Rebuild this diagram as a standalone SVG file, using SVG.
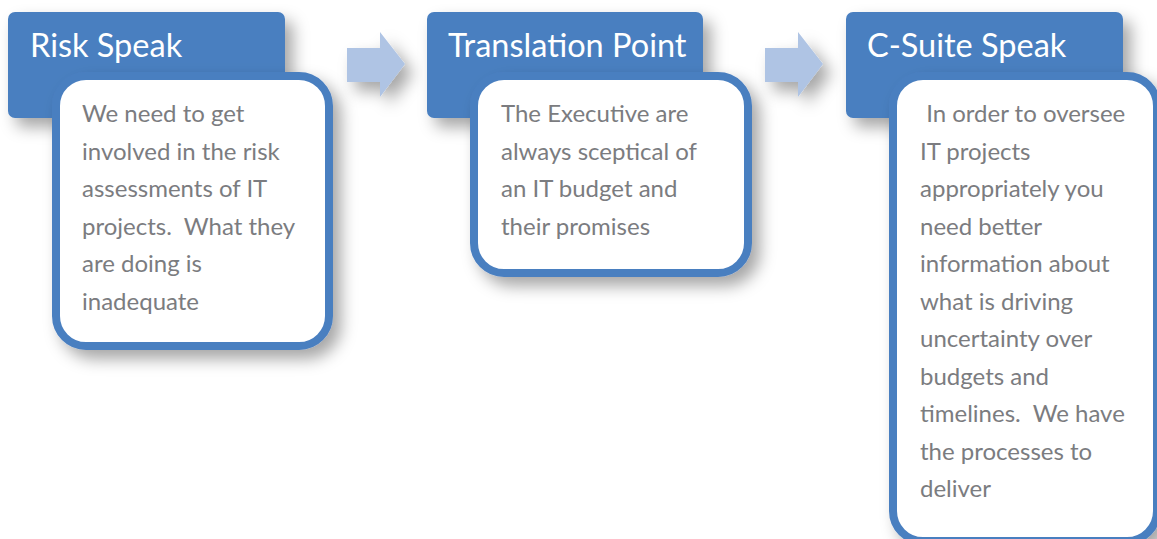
<svg xmlns="http://www.w3.org/2000/svg" width="1157" height="539" viewBox="0 0 1157 539">
<defs>
<style>
.hdr{fill:#4a7fc0}
.box{fill:#ffffff;stroke:#4a7fc0;stroke-width:8}
.arrow{fill:#afc4e4}
.title{font-family:Lato,"Open Sans",sans-serif;font-size:32.5px;fill:#ffffff}
.body{font-family:Lato,"Open Sans",sans-serif;font-size:24px;fill:#7b7c80}
</style>
<filter id="sh" x="-20%" y="-20%" width="150%" height="150%">
<feDropShadow dx="8" dy="9" stdDeviation="8" flood-color="#000" flood-opacity="0.35"/>
</filter>
</defs>
<rect width="1157" height="539" fill="#ffffff"/>
<g id="connectors">
<path class="arrow" filter="url(#sh)" d="M347,48 H380 V32 L405,64 L380,97 V82 H347 Z"/>
<path class="arrow" filter="url(#sh)" d="M765,48 H798 V32 L823,64 L798,97 V82 H765 Z"/>
</g>
<g id="node-risk">
<rect class="hdr" filter="url(#sh)" x="8" y="12" width="277" height="106" rx="7"/>
<rect class="box" filter="url(#sh)" x="56" y="76" width="273" height="270" rx="30"/>
<text class="title" x="30" y="57">Risk Speak</text>
<text class="body" xml:space="preserve"><tspan x="82" y="122">We need to get</tspan><tspan x="82" y="159.5">involved in the risk</tspan><tspan x="82" y="197">assessments of IT</tspan><tspan x="82" y="234.5">projects.  What they</tspan><tspan x="82" y="272">are doing is</tspan><tspan x="82" y="309.5">inadequate</tspan></text>
</g>
<g id="node-translation">
<rect class="hdr" filter="url(#sh)" x="427" y="12" width="276" height="106" rx="7"/>
<rect class="box" filter="url(#sh)" x="474" y="76" width="274" height="197" rx="30"/>
<text class="title" x="448" y="57">Translation Point</text>
<text class="body" xml:space="preserve"><tspan x="501" y="122">The Executive are</tspan><tspan x="501" y="159.5">always sceptical of</tspan><tspan x="501" y="197">an IT budget and</tspan><tspan x="501" y="234.5">their promises</tspan></text>
</g>
<g id="node-csuite">
<rect class="hdr" filter="url(#sh)" x="846" y="12" width="277" height="106" rx="7"/>
<rect class="box" filter="url(#sh)" x="893" y="76" width="264" height="465" rx="30"/>
<text class="title" x="867" y="57">C-Suite Speak</text>
<text class="body" xml:space="preserve"><tspan x="920" y="122"> In order to oversee</tspan><tspan x="920" y="159.5">IT projects</tspan><tspan x="920" y="197">appropriately you</tspan><tspan x="920" y="234.5">need better</tspan><tspan x="920" y="272">information about</tspan><tspan x="920" y="309.5">what is driving</tspan><tspan x="920" y="347">uncertainty over</tspan><tspan x="920" y="384.5">budgets and</tspan><tspan x="920" y="422">timelines.  We have</tspan><tspan x="920" y="459.5">the processes to</tspan><tspan x="920" y="497">deliver</tspan></text>
</g>
</svg>
